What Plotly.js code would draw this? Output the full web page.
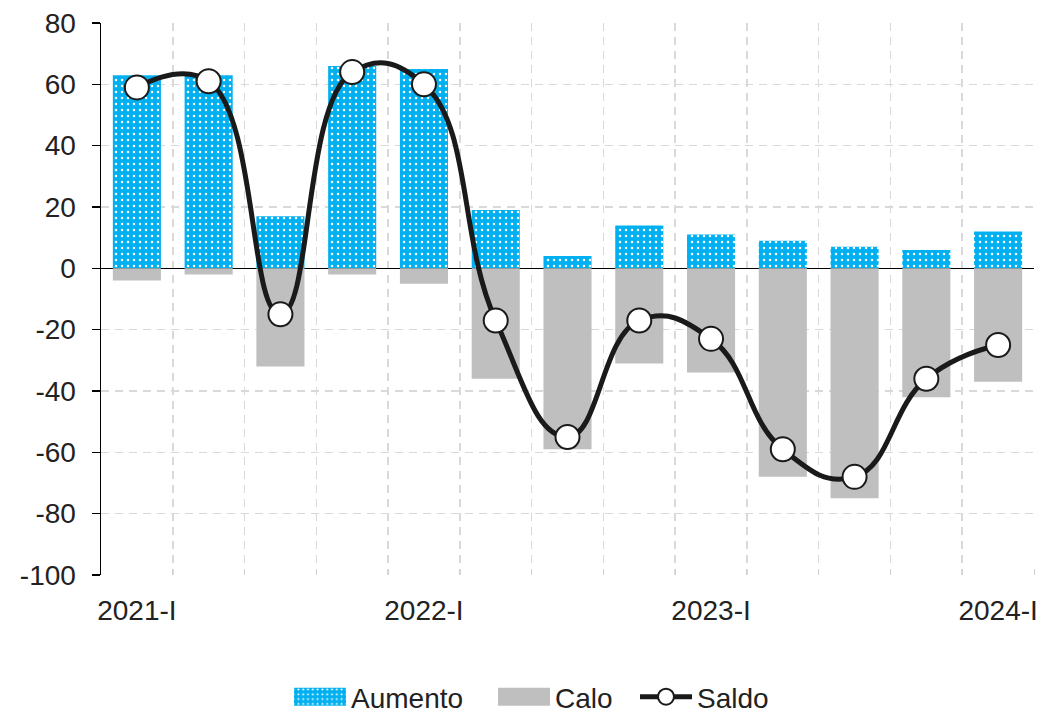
<!DOCTYPE html>
<html>
<head>
<meta charset="utf-8">
<script src="https://cdn.plot.ly/plotly-3.0.1.min.js"></script>
<style>html,body{margin:0;padding:0;background:#fff;}#chart{width:1040px;height:713px;}</style>
</head>
<body>
<div id="chart"></div>
<script>
const categories = ['2021-I','2021-II','2021-III','2021-IV','2022-I','2022-II','2022-III','2022-IV','2023-I','2023-II','2023-III','2023-IV','2024-I'];
const aumento = [63, 63, 17, 66, 65, 19, 4, 14, 11, 9, 7, 6, 12];
const calo = [-4, -2, -32, -2, -5, -36, -59, -31, -34, -68, -75, -42, -37];
const saldo = [59, 61, -15, 64, 60, -17, -55, -17, -23, -59, -68, -36, -25];
const xTickLabels = ['2021-I','2022-I','2023-I','2024-I'];
const yTickVals = [80, 60, 40, 20, 0, -20, -40, -60, -80, -100];
const yTickText = ['80', '60', '40', '20', '0', '-20', '-40', '-60', '-80', '-100'];

const xs = categories.map((c, i) => i);
const tickPos = xTickLabels.map(t => categories.indexOf(t));
const boundaries = categories.map((c, i) => i + 0.5);

const font = {family: 'Liberation Sans, Arial, sans-serif', size: 28, color: '#222'};

const traces = [
  {type: 'bar', name: 'Aumento', x: xs, y: aumento,
   marker: {color: '#00B0F0', line: {width: 0},
            pattern: {shape: '.', fgcolor: '#ffffff', bgcolor: '#00B0F0', size: 6, solidity: 0.14, fillmode: 'replace'}}},
  {type: 'bar', name: 'Calo', x: xs, y: calo,
   marker: {color: '#BFBFBF', line: {width: 0}}},
  {type: 'scatter', mode: 'lines+markers', name: 'Saldo', x: xs, y: saldo,
   line: {color: '#1a1a1a', width: 5, shape: 'spline', smoothing: 1.3},
   marker: {symbol: 'circle', size: 24, color: '#ffffff', line: {color: '#1a1a1a', width: 2}}}
];

const layout = {
  width: 1040, height: 713,
  margin: {l: 101, r: 6, t: 23, b: 138},
  paper_bgcolor: '#fff', plot_bgcolor: '#fff',
  font: font,
  barmode: 'relative',
  bargap: 0.33,
  showlegend: true,
  legend: {orientation: 'h', x: 0.5, xanchor: 'center', xref: 'container', y: 0, yref: 'container', yanchor: 'bottom',
           font: font, itemwidth: 52, traceorder: 'normal', borderwidth: 0, bgcolor: 'rgba(0,0,0,0)'},
  xaxis: {
    range: [-0.5, categories.length - 0.5],
    tickmode: 'array', tickvals: tickPos, ticktext: xTickLabels,
    ticks: '', showgrid: false, zeroline: false, showline: false,
    ticklabelstandoff: 16,
    tickfont: font,
    minor: {tickmode: 'array', tickvals: boundaries, showgrid: true, gridcolor: '#D9D9D9', gridwidth: 1.5, griddash: '8px,6px',
            ticks: 'inside', ticklen: 6, tickcolor: '#D0D0D0', tickwidth: 1}
  },
  yaxis: {
    range: [-100, 80], tickmode: 'array', tickvals: yTickVals, ticktext: yTickText,
    showline: true, linecolor: '#000', linewidth: 1.5,
    ticks: 'outside', ticklen: 8, tickcolor: '#000', tickwidth: 1.5,
    showgrid: true, gridcolor: '#D9D9D9', gridwidth: 1.5, griddash: '8px,6px',
    zeroline: true, zerolinecolor: '#000', zerolinewidth: 1.5,
    ticklabelstandoff: 10,
    tickfont: font
  }
};

Plotly.newPlot('chart', traces, layout, {displayModeBar: false, staticPlot: true}).then(gd => {
  const legend = gd.querySelector('.legend');
  if (!legend) return;
  legend.querySelectorAll('[clip-path]').forEach(e => e.removeAttribute('clip-path'));
  const items = legend.querySelectorAll('.traces');
  // widen the bar legend swatches to match the reference
  items.forEach((item, i) => {
    if (i > 1) return;
    item.querySelectorAll('.legendpoints path').forEach(p => {
      const bb = p.getBBox();
      const cx = bb.x + bb.width / 2, cy = bb.y + bb.height / 2;
      p.setAttribute('d', 'M' + (cx - 26) + ',' + (cy - 9) + 'h52v18h-52Z');
    });
  });
  // spread legend entries like the reference
  const targets = [294, 498, 640];
  items.forEach((item, i) => {
    let sym = i < 2 ? item.querySelector('.legendpoints path') : item.querySelector('.legendlines path');
    if (!sym) return;
    const r = sym.getBoundingClientRect();
    const dx = targets[i] - r.left;
    const t = item.getAttribute('transform') || '';
    item.setAttribute('transform', t + ' translate(' + dx + ',0)');
  });
  const lt = legend.getAttribute('transform') || '';
  legend.setAttribute('transform', lt + ' translate(0,9)');
});
</script>
</body>
</html>
